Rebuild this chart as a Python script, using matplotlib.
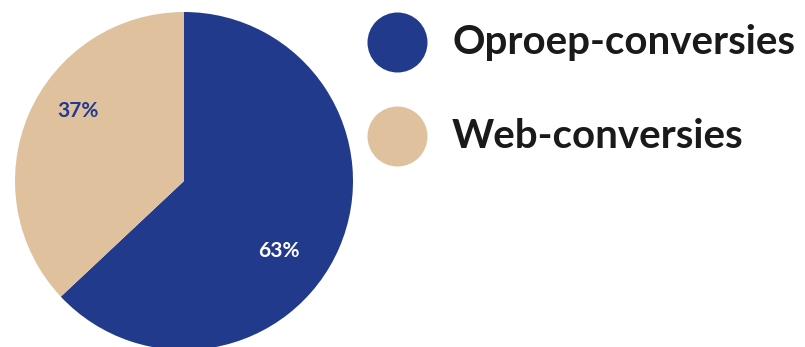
import matplotlib.pyplot as plt
import numpy as np

labels = ['Oproep-conversies', 'Web-conversies']
values = [63, 37]
colors = ['#223a8c', '#dfc29d']
pct_colors = ['white', '#223a8c']

plt.rcParams['font.family'] = ['Lato', 'DejaVu Sans']

fig = plt.figure(figsize=(8.05, 3.47), dpi=100)
ax = fig.add_axes([0, 0, 1, 1])

cx, cy, r = 184, 166, 169
wedges, _ = ax.pie(values, colors=colors, startangle=90, counterclock=False,
                   center=(cx, cy), radius=r, frame=True)

# label positions (angle in degrees, fraction of radius) - placed by hand in the original
label_pos = [(-36.5, 0.70), (146.6, 0.75)]
for v, c, (ang, d) in zip(values, pct_colors, label_pos):
    a = np.deg2rad(ang)
    ax.text(cx + d * r * np.cos(a), cy + d * r * np.sin(a), f'{v}%',
            color=c, fontsize=15, fontweight='bold', ha='center', va='center')

# legend
for i, (lab, c) in enumerate(zip(labels, colors)):
    y = 305 - i * 94
    ax.scatter([397], [y], s=(60 * 0.72) ** 2, color=c, linewidths=0)
    ax.text(452, y, lab, fontsize=29, fontweight='bold', color='#1a1a1a',
            ha='left', va='center')

ax.set_xlim(0, 805)
ax.set_ylim(0, 347)
ax.set_aspect('equal')
ax.axis('off')

fig.savefig('out.png', dpi=100)
